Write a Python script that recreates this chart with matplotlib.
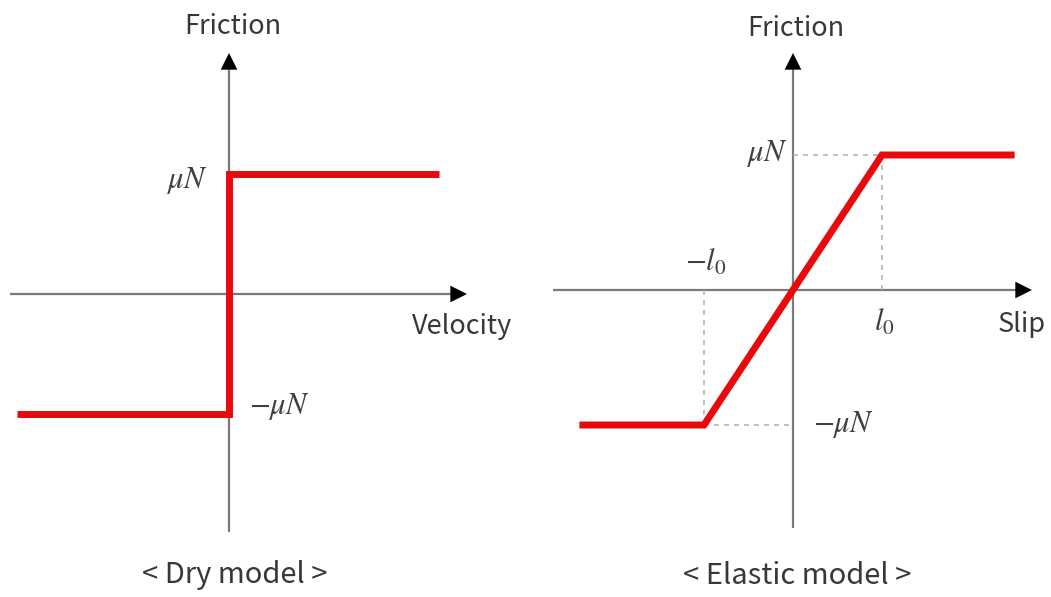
import matplotlib
matplotlib.use("Agg")
import matplotlib.pyplot as plt

# ---- data ----
dry_velocity = [-1.01, 0.0, 0.0, 1.0]
dry_friction = [-1.0, -1.0, 1.0, 1.0]
elastic_slip = [-2.40, -1.0, 1.0, 2.49]
elastic_friction = [-1.0, -1.0, 1.0, 1.0]
l0 = 1.0
muN = 1.0

W, H = 1051, 597
plt.rcParams['font.family'] = ['Noto Sans CJK KR', 'DejaVu Sans']
plt.rcParams['mathtext.fontset'] = 'stix'

fig = plt.figure(figsize=(W / 100, H / 100), dpi=100)
fig.patch.set_facecolor('white')

RED = '#e8090c'
AXC = '#7a7a7a'
TXT = '#383838'


def make_axes(left_px, right_px, ox, oy, ux, uy):
    ax = fig.add_axes([left_px / W, 0, (right_px - left_px) / W, 1])
    ax.set_xlim(-(ox - left_px) / ux, (right_px - ox) / ux)
    ax.set_ylim(-(H - oy) / uy, oy / uy)
    ax.axis('off')
    return ax


def draw_axes(ax, x0, x1, y0, y1):
    ax.plot([x0, x1 * 0.97], [0, 0], color=AXC, lw=1.6, solid_capstyle='butt', zorder=1)
    ax.plot([0, 0], [y0, y1 * 0.97], color=AXC, lw=1.6, solid_capstyle='butt', zorder=1)
    for tip, start in (((x1, 0), (x1 * 0.9, 0)), ((0, y1), (0, y1 * 0.9))):
        ax.annotate('', xy=tip, xytext=start,
                    arrowprops=dict(arrowstyle='-|>', color='black', lw=0,
                                    mutation_scale=30, shrinkA=0, shrinkB=0),
                    zorder=2)


def ftext(x, y, s, **kw):
    fig.text(x / W, 1 - y / H, s, ha='center', va='center', **kw)


# ---- Dry model ----
axL = make_axes(0, 525.5, 229, 294, 210, 120)
draw_axes(axL, -219 / 210, 238 / 210, -238 / 120, 241 / 120)
axL.plot(dry_velocity, dry_friction, color=RED, lw=5,
         solid_joinstyle='miter', solid_capstyle='butt', zorder=3)

# ---- Elastic model ----
axR = make_axes(525.5, 1051, 793, 290, 89, 135)
draw_axes(axR, -240 / 89, 239 / 89, -238 / 135, 237 / 135)
dash = dict(color='#b4b4b4', lw=1.2, linestyle=(0, (3, 3)), zorder=1)
axR.plot([0, l0], [muN, muN], **dash)
axR.plot([l0, l0], [0, muN], **dash)
axR.plot([-l0, -l0], [-muN, 0], **dash)
axR.plot([-l0, 0], [-muN, -muN], **dash)
axR.plot(elastic_slip, elastic_friction, color=RED, lw=5,
         solid_joinstyle='miter', solid_capstyle='butt', zorder=3)

# ---- texts ----
lab = dict(fontsize=19.5, color=TXT)
ftext(233, 26, 'Friction', **lab)
ftext(462, 327, 'Velocity', **lab)
ftext(235, 575, '< Dry model >', fontsize=21, color=TXT)
ftext(796, 28, 'Friction', **lab)
ftext(1022, 325, 'Slip', **lab)
ftext(797, 576, '< Elastic model >', fontsize=21, color=TXT)

mt = dict(fontsize=22, color='#404040')
ftext(187, 181, r'$\mu N$', **mt)
ftext(280, 407, r'$-\mu N$', **mt)
ftext(767, 154, r'$\mu N$', **mt)
ftext(844, 425, r'$-\mu N$', **mt)
ftext(706, 262, r'$-l_0$', **mt)
ftext(884, 322, r'$l_0$', **mt)

fig.savefig('out.png', dpi=100, facecolor='white')
